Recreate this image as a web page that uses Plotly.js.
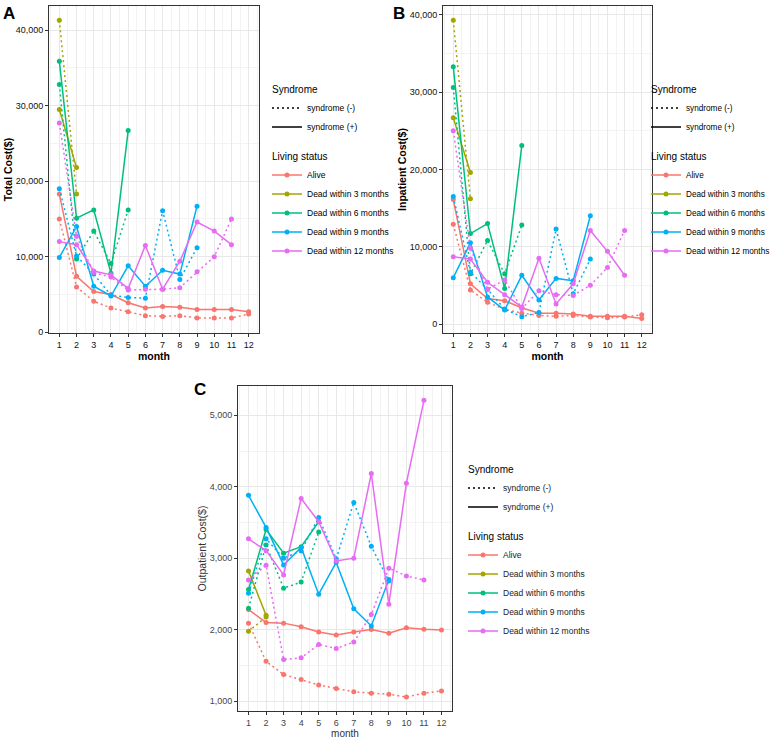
<!DOCTYPE html>
<html>
<head>
<meta charset="utf-8">
<script src="https://cdn.plot.ly/plotly-3.0.1.min.js"></script>
<style>html,body{margin:0;padding:0;background:#fff;}#chart{width:772px;height:739px;}</style>
</head>
<body>
<div id="chart"></div>
<script>
// ---- data ----
const months = [1,2,3,4,5,6,7,8,9,10,11,12];
const statusNames = ["Alive","Dead within 3 months","Dead within 6 months","Dead within 9 months","Dead within 12 months"];
const statusColors = ["#F8766D","#A3A500","#00BF7D","#00B0F6","#E76BF3"];
const syndromeNames = ["syndrome (-)","syndrome (+)"];

// Panel A: Total cost
const alive_pos_A = [18300,7400,5400,5000,3900,3200,3400,3300,3000,3000,3000,2700];
const alive_neg_A = [15000,6000,4100,3200,2700,2200,2100,2200,1900,1900,1900,2400];
const d3_pos_A = [29500,21800];
const d3_neg_A = [41300,18300];
const d6_pos_A = [35900,15100,16200,7800,26700];
const d6_neg_A = [32800,9700,13400,9100,16200];
const d9_pos_A = [9900,14000,6100,4800,8800,6100,8200,7700,16700];
const d9_neg_A = [19000,10100,7700,4900,4600,4500,16100,7000,11200];
const d12_pos_A = [12000,11600,8100,7600,5800,11500,5700,9400,14600,13400,11600];
const d12_neg_A = [27700,12700,7900,7300,5600,5700,5700,5900,8000,10000,15000];

// Panel B: Inpatient cost
const alive_pos_B = [16100,5200,3300,3000,2100,1400,1400,1300,1000,1000,1000,700];
const alive_neg_B = [12900,4400,2800,1900,1400,1100,1000,1100,900,800,900,1200];
const d3_pos_B = [26700,19600];
const d3_neg_B = [39300,16200];
const d6_pos_B = [33300,11700,13000,4600,23100];
const d6_neg_B = [30600,6500,10800,6500,12800];
const d9_pos_B = [6000,10500,3500,1800,6300,3100,5900,5600,14000];
const d9_neg_B = [16500,6700,4500,1900,950,1500,12300,3900,8400];
const d12_pos_B = [8700,8400,5400,3800,2200,8500,2600,5200,12100,9400,6300];
const d12_neg_B = [25000,9800,4500,5700,2000,4300,3800,3700,5000,7300,12100];

// Panel C: Outpatient cost
const alive_pos_C = [2280,2100,2090,2040,1965,1925,1965,2000,1950,2025,2005,1995];
const alive_neg_C = [2090,1555,1370,1300,1225,1175,1130,1110,1095,1055,1110,1140];
const d3_pos_C = [2820,2200];
const d3_neg_C = [1975,2175];
const d6_pos_C = [2560,3400,3070,3160,3510];
const d6_neg_C = [2300,3185,2580,2665,3365];
const d9_pos_C = [3880,3430,2905,3150,2495,2940,2290,2050,2700];
const d9_neg_C = [2510,3270,3000,3100,3570,2990,3780,3165,2680];
const d12_pos_C = [3270,3105,2765,3835,3510,2960,3000,4185,2355,4050,5210];
const d12_neg_C = [2695,2900,1580,1605,1790,1735,1825,2210,2860,2750,2695];

const yTitles = ["Total Cost($)","Inpatient Cost($)","Outpatient Cost($)"];
const panelLetters = ["A","B","C"];

// ---- build ----
const panels = [
  {pos:[alive_pos_A,d3_pos_A,d6_pos_A,d9_pos_A,d12_pos_A], neg:[alive_neg_A,d3_neg_A,d6_neg_A,d9_neg_A,d12_neg_A]},
  {pos:[alive_pos_B,d3_pos_B,d6_pos_B,d9_pos_B,d12_pos_B], neg:[alive_neg_B,d3_neg_B,d6_neg_B,d9_neg_B,d12_neg_B]},
  {pos:[alive_pos_C,d3_pos_C,d6_pos_C,d9_pos_C,d12_pos_C], neg:[alive_neg_C,d3_neg_C,d6_neg_C,d9_neg_C,d12_neg_C]}
];
const FONT = "Liberation Sans, Arial, sans-serif";
const DOT = "2px,3px";
const traces = [];
panels.forEach((p, pi) => {
  const xa = pi === 0 ? "x" : "x" + (pi + 1);
  const ya = pi === 0 ? "y" : "y" + (pi + 1);
  const lg = pi === 0 ? "legend" : "legend" + (pi + 1);
  syndromeNames.forEach((nm, si) => {
    traces.push({
      type: "scatter", mode: "lines", x: [null], y: [null], xaxis: xa, yaxis: ya,
      name: nm, legend: lg, legendgroup: "syn" + pi,
      legendgrouptitle: {text: "Syndrome", font: {size: 10, color: "#000", family: FONT}},
      line: {color: "#000", width: 1.5, dash: si === 0 ? DOT : "solid"},
      hoverinfo: "skip"
    });
  });
  statusNames.forEach((nm, ci) => {
    traces.push({
      type: "scatter", mode: "lines+markers", x: [null], y: [null], xaxis: xa, yaxis: ya,
      name: nm, legend: lg, legendgroup: "liv" + pi,
      legendgrouptitle: {text: "Living status", font: {size: 10, color: "#000", family: FONT}},
      line: {color: statusColors[ci], width: 1.5}, marker: {color: statusColors[ci], size: 5},
      hoverinfo: "skip"
    });
  });
  statusNames.forEach((nm, ci) => {
    [["neg", DOT], ["pos", "solid"]].forEach(([k, dash]) => {
      const vals = p[k][ci];
      traces.push({
        type: "scatter", mode: "lines+markers",
        x: months.slice(0, vals.length), y: vals, xaxis: xa, yaxis: ya,
        name: nm + " " + k, showlegend: false,
        line: {color: statusColors[ci], width: 1.5, dash: dash},
        marker: {color: statusColors[ci], size: 5}
      });
    });
  });
});

const W = 772, H = 739;
const px = (a, b) => [a / W, b / W];
const py = (top, bottom) => [1 - bottom / H, 1 - top / H];

function xAxis(dom, bold, standoff, tsize) {
  return {
    domain: dom, range: [0.4, 12.6], tickvals: months, ticks: "outside", ticklen: 3,
    tickcolor: "#333", showline: true, mirror: true, linecolor: "#333", linewidth: 1,
    gridcolor: "#e8e8e8", zeroline: false,
    minor: {showgrid: true, tick0: 0.5, dtick: 1, gridcolor: "#f3f3f3"},
    tickfont: {size: 9, color: bold ? "#111" : "#444", family: FONT},
    title: {text: bold ? "<b>month</b>" : "month", standoff: standoff, font: {size: tsize, color: bold ? "#000" : "#333", family: FONT}},
    fixedrange: true
  };
}
function yAxis(dom, range, dtick, anchor, title, bold) {
  return {
    domain: dom, range: range, dtick: dtick, tickformat: ",d", ticks: "outside", ticklen: 3,
    tickcolor: "#333", showline: true, mirror: true, linecolor: "#333", linewidth: 1,
    gridcolor: "#e8e8e8", zeroline: false, anchor: anchor,
    minor: {showgrid: true, dtick: dtick / 2, gridcolor: "#f3f3f3"},
    tickfont: {size: 9, color: bold ? "#111" : "#444", family: FONT},
    title: {text: bold ? "<b>" + title + "</b>" : title, standoff: 0, font: {size: 10.5, color: bold ? "#000" : "#333", family: FONT}},
    fixedrange: true
  };
}
function legendAt(xpx, ycpx, txtColor, fs) {
  return {
    x: xpx / W, xanchor: "left", y: 1 - ycpx / H, yanchor: "middle",
    bgcolor: "rgba(0,0,0,0)", borderwidth: 0, traceorder: "grouped", tracegroupgap: 10,
    font: {size: fs, color: txtColor, family: FONT}, itemclick: false, itemdoubleclick: false
  };
}

const layout = {
  width: W, height: H, margin: {l: 0, r: 0, t: 0, b: 0, autoexpand: false},
  paper_bgcolor: "#fff", plot_bgcolor: "#fff", font: {family: FONT},
  showlegend: true,
  xaxis: Object.assign(xAxis(px(49, 259), true, 0, 10.5), {anchor: "y"}),
  yaxis: yAxis(py(6, 333), [-100, 43200], 10000, "x", yTitles[0], true),
  xaxis2: Object.assign(xAxis(px(443, 652), true, 0, 10.5), {anchor: "y2"}),
  yaxis2: yAxis(py(6, 333), [-1165, 41150], 10000, "x2", yTitles[1], true),
  xaxis3: Object.assign(xAxis(px(238, 452), false, 2, 10), {anchor: "y3"}),
  yaxis3: yAxis(py(386, 711), [860, 5410], 1000, "x3", yTitles[2], false),
  legend: legendAt(267, 170, "#000", 8.5),
  legend2: legendAt(646, 170, "#000", 8.2),
  legend3: legendAt(463, 550, "#222", 8.5),
  annotations: [
    {text: "<b>" + panelLetters[0] + "</b>", x: 1 / W, y: 1 - 2 / H},
    {text: "<b>" + panelLetters[1] + "</b>", x: 391 / W, y: 1 - 2 / H},
    {text: "<b>" + panelLetters[2] + "</b>", x: 192 / W, y: 1 - 378 / H}
  ].map(a => Object.assign(a, {xref: "paper", yref: "paper", xanchor: "left", yanchor: "top",
      showarrow: false, font: {size: 17, color: "#000", family: FONT}}))
};

Plotly.newPlot("chart", traces, layout, {displayModeBar: false, staticPlot: true});
</script>
</body>
</html>
